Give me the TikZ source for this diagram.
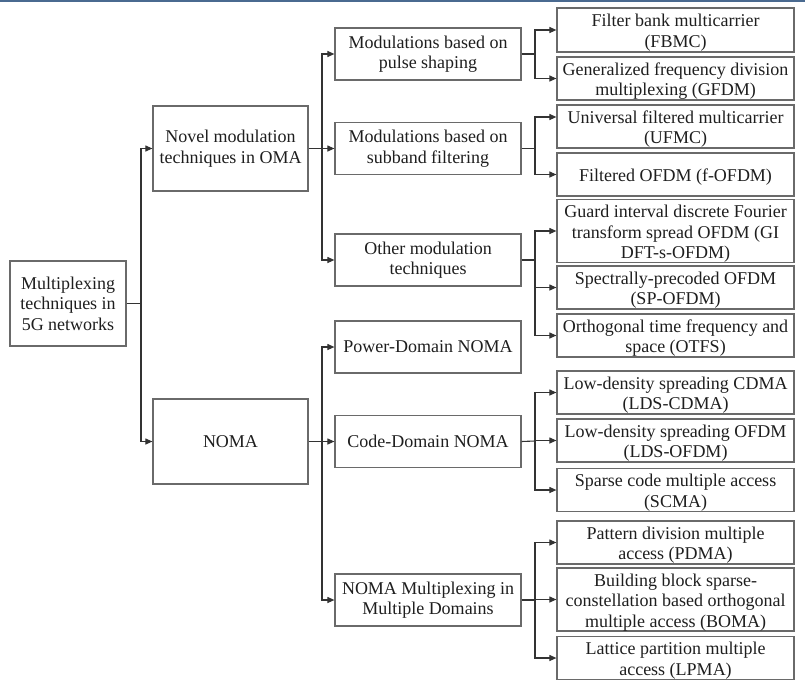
\documentclass[tikz,border=0pt]{standalone}
\usepackage{fontspec}
\setmainfont{Liberation Serif}
\usetikzlibrary{arrows.meta,calc}
\definecolor{boxc}{HTML}{6A6A6A}
\definecolor{linec}{HTML}{333333}
\definecolor{txtc}{HTML}{1E1E1E}
\definecolor{topblue}{HTML}{4A6A90}
\newcommand{\ts}{\rule{0pt}{18pt}}
\begin{document}
\begin{tikzpicture}[x=1pt,y=-1pt,
  box/.style={draw=boxc,line width=1.2pt,rectangle,inner sep=0pt,align=center,
    text=txtc,font=\fontsize{18}{20.5}\selectfont},
  lthree/.style={box,minimum width=237},
  conn/.style={draw=linec,line width=1.1pt,-{Triangle[length=7pt,width=6pt]}},
  plain/.style={draw=linec,line width=1.1pt}]
\useasboundingbox (0,0) rectangle (805,680);
\fill[topblue] (0,0) rectangle (805,1.5);
% level 0 and 1
\node[box,minimum width=116,minimum height=85] (root) at (68,303.5) {Multiplexing\\techniques in\\5G networks};
\node[box,minimum width=155,minimum height=85] (oma) at (230.5,148.5) {Novel modulation\\techniques in OMA};
\node[box,minimum width=155,minimum height=85] (noma) at (230.5,441.5) {NOMA};
% level 2
\node[box,minimum width=186,minimum height=52] (pulse) at (428,54) {Modulations based on\\pulse shaping};
\node[box,minimum width=186,minimum height=52] (sub) at (428,148.5) {Modulations based on\\subband filtering};
\node[box,minimum width=186,minimum height=52] (other) at (428,260) {Other modulation\\techniques};
\node[box,minimum width=186,minimum height=52] (power) at (428,347) {Power-Domain NOMA};
\node[box,minimum width=186,minimum height=52] (code) at (428,441.5) {Code-Domain NOMA};
\node[box,minimum width=186,minimum height=52] (multi) at (428,600) {NOMA Multiplexing in\\Multiple Domains};
% level 3
\node[lthree,minimum height=44] (fbmc) at (675.5,30) {\ts Filter bank multicarrier\\(FBMC)};
\node[lthree,minimum height=43] (gfdm) at (675.5,78.5) {\ts Generalized frequency division\\multiplexing (GFDM)};
\node[lthree,minimum height=43] (ufmc) at (675.5,126.5) {\ts Universal filtered multicarrier\\(UFMC)};
\node[lthree,minimum height=43] (fofdm) at (675.5,174.5) {\ts Filtered OFDM (f-OFDM)};
\node[lthree,minimum height=60] (gi) at (675.5,231) {\ts Guard interval discrete Fourier\\transform spread OFDM (GI\\DFT-s-OFDM)};
\node[lthree,minimum height=43] (sp) at (675.5,287.5) {\ts Spectrally-precoded OFDM\\(SP-OFDM)};
\node[lthree,minimum height=43] (otfs) at (675.5,335.5) {\ts Orthogonal time frequency and\\space (OTFS)};
\node[lthree,minimum height=43] (ldsc) at (675.5,392.5) {\ts Low-density spreading CDMA\\(LDS-CDMA)};
\node[lthree,minimum height=43] (ldso) at (675.5,440.5) {\ts Low-density spreading OFDM\\(LDS-OFDM)};
\node[lthree,minimum height=42] (scma) at (675.5,490) {\ts Sparse code multiple access\\(SCMA)};
\node[lthree,minimum height=43] (pdma) at (675.5,542.5) {\ts Pattern division multiple\\access (PDMA)};
\node[lthree,minimum height=59] (boma) at (675.5,599.5) {\ts Building block sparse-\\constellation based orthogonal\\multiple access (BOMA)};
\node[lthree,minimum height=42] (lpma) at (675.5,658) {\ts Lattice partition multiple\\access (LPMA)};
% junctions
\coordinate (j0) at (141,303.5);
\coordinate (j1) at (322,148.5);
\coordinate (j2) at (322,441.5);
\coordinate (b1) at (535,54);
\coordinate (b2) at (535,148.5);
\coordinate (b3) at (535,260);
\coordinate (b4) at (535,441);
\coordinate (b5) at (535,600);
% level 0 -> 1
\draw[plain] (root.east) -- (j0);
\draw[conn] (j0) |- (oma.west);
\draw[conn] (j0) |- (noma.west);
% level 1 -> 2
\draw[conn] (oma.east) -- (sub.west);
\draw[conn] (j1) |- (pulse.west);
\draw[conn] (j1) |- (other.west);
\draw[conn] (noma.east) -- (code.west);
\draw[conn] (j2) |- (power.west);
\draw[conn] (j2) |- (multi.west);
% level 2 -> 3
\draw[plain] (pulse.east) -- (b1);
\draw[conn] (b1) |- (fbmc.west);
\draw[conn] (b1) |- (gfdm.west);
\draw[plain] (sub.east) -- (b2);
\draw[conn] (b2) |- ($(ufmc.west)+(0,-9.5)$);
\draw[conn] (b2) |- (fofdm.west);
\draw[plain] (other.east) -- (b3);
\draw[conn] (b3) |- (gi.west);
\draw[conn] (b3) |- (sp.west);
\draw[conn] (b3) |- (otfs.west);
\draw[plain] (code.east) -- (b4);
\draw[conn] (b4) |- (ldsc.west);
\draw[conn] (b4) |- (ldso.west);
\draw[conn] (b4) |- (scma.west);
\draw[plain] (multi.east) -- (b5);
\draw[conn] (b5) |- (pdma.west);
\draw[conn] (b5) |- (boma.west);
\draw[conn] (b5) |- (lpma.west);
\end{tikzpicture}
\end{document}
